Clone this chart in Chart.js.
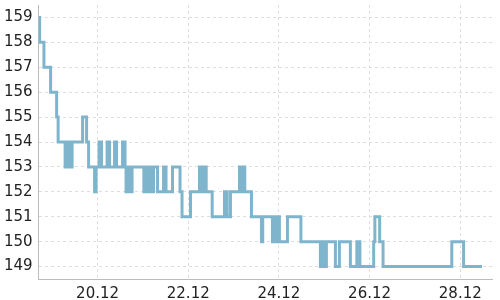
<!DOCTYPE html>
<html>
<head>
<meta charset="utf-8">
<script src="https://cdn.jsdelivr.net/npm/chart.js@4/dist/chart.umd.min.js"></script>
<style>
  html, body { margin: 0; padding: 0; background: #fff; }
  #wrap { width: 500px; height: 300px; }
</style>
</head>
<body>
<div id="wrap"><canvas id="graphCanvas"></canvas></div>
<script>
    // day of December (fractional) where the value changes, and the value from then on
    const days = [
        18.700, 18.722, 18.817, 18.964, 19.097, 19.130, 19.284, 19.339, 19.383, 19.438,
        19.670, 19.758, 19.802, 19.934, 19.967, 20.033, 20.088, 20.210, 20.265, 20.375,
        20.419, 20.551, 20.606, 20.628, 20.683, 20.717, 20.761, 21.021, 21.058, 21.113,
        21.153, 21.190, 21.234, 21.323, 21.455, 21.510, 21.653, 21.819, 21.863, 22.050,
        22.248, 22.304, 22.348, 22.396, 22.528, 22.799, 22.859, 22.931, 23.130, 23.174,
        23.207, 23.247, 23.394, 23.615, 23.643, 23.857, 23.912, 23.945, 23.989, 24.011,
        24.188, 24.485, 24.915, 24.959, 25.003, 25.047, 25.246, 25.334, 25.576, 25.719,
        25.786, 26.090, 26.116, 26.222, 26.297, 27.813, 28.073, 28.479
    ];
    const prices = [
        159, 158, 157, 156, 155, 154, 153, 154, 153, 154,
        155, 154, 153, 152, 153, 154, 153, 154, 153, 154,
        153, 154, 153, 152, 153, 152, 153, 152, 153, 152,
        153, 152, 153, 152, 153, 152, 153, 152, 151, 152,
        153, 152, 153, 152, 151, 152, 151, 152, 153, 152,
        153, 152, 151, 150, 151, 150, 151, 150, 151, 150,
        151, 150, 149, 150, 149, 150, 149, 150, 149, 150,
        149, 150, 151, 150, 149, 150, 149, 149
    ];
    const xTicks = [20, 22, 24, 26, 28];
    const xTickLabels = ['20.12', '22.12', '24.12', '26.12', '28.12'];
    const yTicks = [149, 150, 151, 152, 153, 154, 155, 156, 157, 158, 159];

    Chart.defaults.font.family = 'DejaVu Sans';
    Chart.defaults.font.size = 15;
    Chart.defaults.color = '#222';

    const ctx = document.getElementById('graphCanvas');

    // drop the label overflow padding so the plot reaches the edges like the original
    const noPad = scale => {
        scale.paddingTop = 0;
        scale.paddingBottom = 0;
        scale.paddingLeft = 0;
        scale.paddingRight = 0;
    };

    new Chart(ctx, {
        type: 'line',
        data: {
            datasets: [{
                data: days.map((d, i) => ({ x: d, y: prices[i] })),
                stepped: true,
                borderColor: 'rgb(126, 181, 205)',
                borderWidth: 3,
                pointRadius: 0,
                fill: false
            }]
        },
        options: {
            responsive: true,
            maintainAspectRatio: false,
            animation: false,
            plugins: {
                legend: { display: false },
                tooltip: { enabled: false }
            },
            layout: {
                padding: { top: 5, right: 8, left: -2, bottom: -9 }
            },
            scales: {
                x: {
                    type: 'linear',
                    min: 18.7,
                    max: 28.7,
                    afterBuildTicks: scale => {
                        scale.ticks = xTicks.map(v => ({ value: v }));
                    },
                    afterFit: noPad,
                    ticks: {
                        padding: 6,
                        maxRotation: 0,
                        callback: value => xTickLabels[xTicks.indexOf(value)]
                    },
                    grid: {
                        color: '#dedede',
                        drawTicks: false
                    },
                    border: {
                        color: '#bbb',
                        dash: [3, 3]
                    }
                },
                y: {
                    min: 148.5,
                    max: 159.5,
                    afterBuildTicks: scale => {
                        scale.ticks = yTicks.map(v => ({ value: v }));
                    },
                    afterFit: noPad,
                    ticks: {
                        padding: 6
                    },
                    grid: {
                        color: '#dedede',
                        drawTicks: false
                    },
                    border: {
                        color: '#bbb',
                        dash: [3, 3]
                    }
                }
            }
        }
    });
</script>
</body>
</html>
